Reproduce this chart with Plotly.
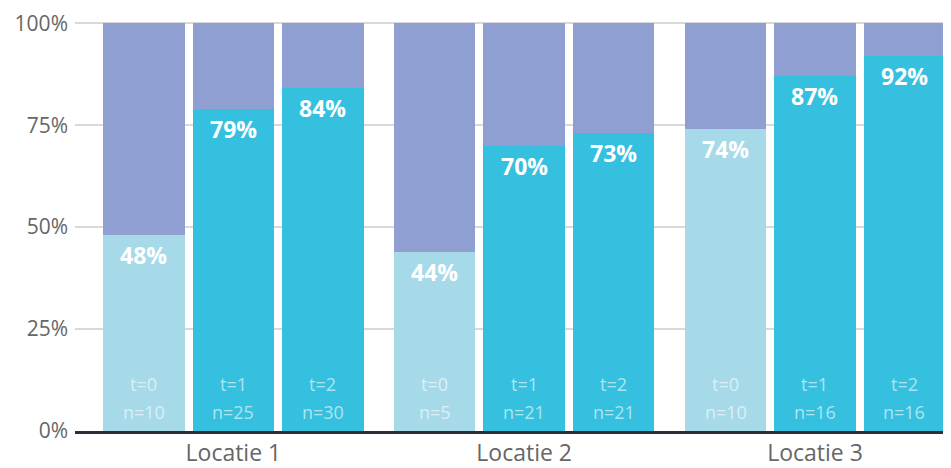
import plotly.graph_objects as go

locations = ["Locatie 1", "Locatie 2", "Locatie 3"]
times = ["t=0", "t=1", "t=2"]
pct = [[48, 79, 84], [44, 70, 73], [74, 87, 92]]
n_vals = [[10, 25, 30], [5, 21, 21], [10, 16, 16]]
y_ticks = [0, 25, 50, 75, 100]
y_tick_labels = ["0%", "25%", "50%", "75%", "100%"]

GROUP_PITCH = 3.25
col_light = "#a6dae9"
col_cyan = "#35c0df"
col_top = "#8f9fd1"

xs, bottoms, tops, colors = [], [], [], []
for g, loc in enumerate(locations):
    for t in range(len(times)):
        xs.append(g * GROUP_PITCH + t)
        bottoms.append(pct[g][t])
        tops.append(100 - pct[g][t])
        colors.append(col_light if t == 0 else col_cyan)

fig = go.Figure()
fig.add_bar(x=xs, y=bottoms, marker=dict(color=colors, line=dict(width=0)), width=0.91,
            hoverinfo="skip")
fig.add_bar(x=xs, y=tops, marker=dict(color=col_top, line=dict(width=0)), width=0.91,
            hoverinfo="skip")

ann = []
i = 0
for g in range(len(locations)):
    for t in range(len(times)):
        x = xs[i]
        ann.append(dict(x=x, y=bottoms[i], text=f"<b>{bottoms[i]}%</b>", showarrow=False,
                        yanchor="middle", yshift=-20,
                        font=dict(family="Open Sans", size=23, color="white")))
        ann.append(dict(x=x, y=0, text=times[t], showarrow=False, yanchor="middle", yshift=47,
                        font=dict(family="Open Sans", size=18, color="rgba(255,255,255,0.6)")))
        ann.append(dict(x=x, y=0, text=f"n={n_vals[g][t]}", showarrow=False, yanchor="middle",
                        yshift=19,
                        font=dict(family="Open Sans", size=18, color="rgba(255,255,255,0.6)")))
        i += 1

fig.update_layout(
    barmode="stack",
    width=943, height=460,
    margin=dict(l=67, r=0, t=14, b=35),
    paper_bgcolor="white", plot_bgcolor="white",
    showlegend=False,
    annotations=ann,
    font=dict(family="Open Sans", color="#666666"),
    xaxis=dict(
        range=[-0.77, 9.02],
        tickmode="array",
        tickvals=[g * GROUP_PITCH + 1 for g in range(len(locations))],
        ticktext=locations,
        tickfont=dict(size=23, color="#666666"),
        showgrid=False, zeroline=False,
        showline=True, linecolor="#2b2f38", linewidth=2.5,
        ticks="", ticklen=0,
    ),
    yaxis=dict(
        range=[0, 100.3],
        tickmode="array", tickvals=y_ticks, ticktext=y_tick_labels,
        tickfont=dict(size=21, color="#666666"),
        showgrid=True, gridcolor="#d9d9d9", gridwidth=2,
        zeroline=False, showline=False,
        ticks="", ticklabelstandoff=6,
        ticklabeloverflow="allow",
    ),
)

fig.write_html("out.html")
